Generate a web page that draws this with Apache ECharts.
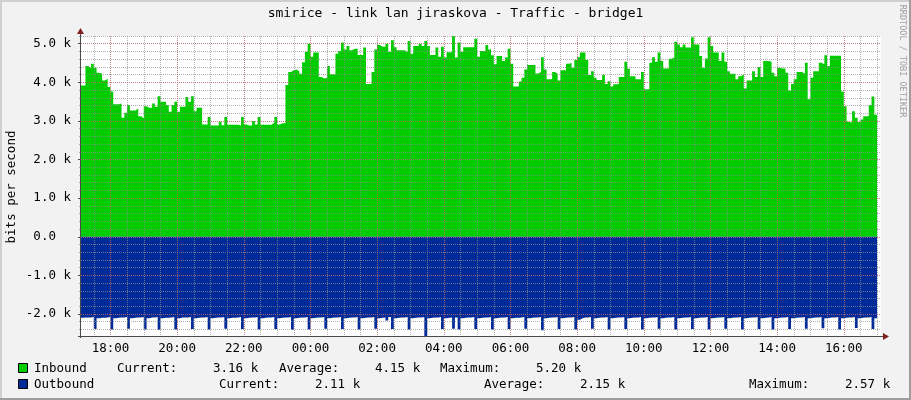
<!DOCTYPE html>
<html>
<head>
<meta charset="utf-8">
<script src="https://cdn.jsdelivr.net/npm/echarts@6/dist/echarts.min.js"></script>
<style>
html,body{margin:0;padding:0;background:#F2F2F2;}
#c{width:911px;height:400px;}
</style>
</head>
<body>
<div id="c"></div>
<script>
// ---- data ----
const chartTitle = 'smirice - link lan jiraskova - Traffic - bridge1';
const yAxisTitle = 'bits per second';
const watermark = 'RRDTOOL / TOBI OETIKER';
const firstSampleMinute = 1025;   // 17:05 (minutes from day-1 midnight)
const sampleStepMinutes = 5;
const axisStartMinute = 1027;     // 17:07
const axisEndMinute = 2467;       // 17:07 next day

// inbound traffic, k bits/s, one value per 5-minute sample
const inbound = [
  3.92,3.92,4.42,4.38,4.48,4.38,4.25,4.22,4.05,4.09,
  3.88,3.76,3.43,3.43,3.45,3.08,3.21,3.41,3.27,3.27,
  3.32,3.12,3.07,3.38,3.34,3.34,3.45,3.37,3.64,3.50,
  3.50,3.41,3.24,3.41,3.50,3.24,3.37,3.37,3.62,3.50,
  3.64,3.25,3.34,3.34,2.91,2.91,3.10,2.88,2.88,2.88,
  2.98,2.89,3.10,2.90,2.90,2.90,2.90,2.88,3.10,2.91,
  2.88,2.88,3.00,2.91,3.10,2.90,2.90,2.90,2.90,2.95,
  3.10,2.91,2.94,2.94,3.93,4.27,4.31,4.33,4.29,4.22,
  4.52,4.79,5.00,4.66,4.77,4.77,4.14,4.10,4.12,4.42,
  4.21,4.21,4.74,4.81,5.03,4.85,4.94,4.83,4.87,4.87,
  4.71,4.71,4.90,3.96,3.96,4.27,4.85,4.97,4.92,4.92,
  5.00,4.79,5.09,4.91,4.83,4.83,4.83,4.78,5.07,4.74,
  4.94,4.94,5.00,4.94,5.07,4.94,4.71,4.71,4.90,4.66,
  4.92,4.64,4.78,4.78,5.20,4.64,5.03,4.79,4.91,4.91,
  4.91,4.91,5.13,4.66,4.81,4.81,4.97,4.85,4.70,4.47,
  4.68,4.68,4.55,4.64,4.87,4.48,3.89,3.89,4.02,4.12,
  4.33,4.45,4.45,4.45,4.23,4.27,4.65,4.33,4.08,4.08,
  4.27,4.22,4.05,4.31,4.31,4.48,4.50,4.38,4.58,4.65,
  4.77,4.77,4.58,4.19,4.29,4.12,4.06,4.06,4.19,3.96,
  4.03,3.89,3.95,3.95,4.14,4.14,4.53,4.35,4.16,4.16,
  4.08,4.08,4.27,3.82,3.82,4.51,4.65,4.53,4.77,4.55,
  4.36,4.36,4.61,4.64,5.05,4.98,4.91,4.98,4.90,4.90,
  5.17,4.98,4.98,4.68,4.38,4.62,5.17,4.94,4.77,4.77,
  4.55,4.77,4.53,4.29,4.22,4.22,4.08,4.16,4.21,3.84,
  4.05,4.05,4.29,4.14,4.40,4.14,4.55,4.55,4.53,4.25,
  4.16,4.38,4.36,4.36,4.25,3.79,3.96,4.08,4.27,4.27,
  4.22,4.51,3.56,4.12,4.29,4.29,4.51,4.47,4.70,4.42,
  4.69,4.69,4.69,4.69,3.76,3.38,2.98,2.95,3.25,3.08,
  2.97,3.04,3.12,3.12,3.41,3.63,3.16
];

// outbound traffic, k bits/s (drawn below zero)
const outbound = [
  2.10,2.09,2.09,2.09,2.08,2.39,2.11,2.10,2.10,2.09,
  2.08,2.40,2.11,2.10,2.09,2.09,2.08,2.38,2.11,2.10,
  2.09,2.09,2.08,2.40,2.11,2.09,2.09,2.08,2.41,2.11,
  2.10,2.10,2.09,2.08,2.40,2.11,2.09,2.09,2.09,2.08,
  2.39,2.11,2.10,2.09,2.09,2.08,2.40,2.11,2.10,2.09,
  2.09,2.08,2.38,2.11,2.10,2.10,2.09,2.08,2.39,2.11,
  2.10,2.09,2.09,2.08,2.40,2.11,2.10,2.09,2.09,2.08,
  2.39,2.11,2.10,2.09,2.09,2.08,2.41,2.11,2.10,2.09,
  2.09,2.08,2.40,2.11,2.10,2.09,2.09,2.08,2.38,2.11,
  2.10,2.09,2.09,2.08,2.39,2.11,2.10,2.09,2.09,2.08,
  2.40,2.11,2.10,2.09,2.09,2.08,2.38,2.11,2.10,2.09,
  2.17,2.08,2.39,2.11,2.10,2.09,2.09,2.08,2.40,2.11,
  2.10,2.09,2.09,2.08,2.57,2.11,2.10,2.09,2.09,2.08,
  2.39,2.11,2.10,2.09,2.38,2.09,2.40,2.11,2.10,2.09,
  2.09,2.08,2.39,2.11,2.10,2.09,2.09,2.08,2.40,2.11,
  2.10,2.09,2.09,2.08,2.39,2.11,2.10,2.10,2.09,2.08,
  2.38,2.11,2.10,2.09,2.09,2.08,2.42,2.11,2.10,2.09,
  2.09,2.08,2.39,2.11,2.10,2.09,2.09,2.08,2.40,2.15,
  2.11,2.09,2.09,2.08,2.38,2.11,2.10,2.09,2.09,2.08,
  2.40,2.11,2.10,2.09,2.09,2.08,2.39,2.11,2.10,2.09,
  2.09,2.08,2.40,2.11,2.10,2.09,2.09,2.08,2.38,2.11,
  2.10,2.09,2.09,2.08,2.40,2.11,2.10,2.09,2.09,2.08,
  2.39,2.11,2.10,2.09,2.09,2.08,2.40,2.11,2.10,2.09,
  2.09,2.08,2.38,2.11,2.10,2.09,2.09,2.08,2.40,2.11,
  2.10,2.09,2.09,2.08,2.39,2.11,2.10,2.09,2.08,2.40,
  2.11,2.10,2.09,2.09,2.08,2.39,2.11,2.10,2.09,2.09,
  2.08,2.38,2.11,2.10,2.09,2.09,2.08,2.37,2.11,2.10,
  2.09,2.09,2.08,2.40,2.11,2.10,2.09,2.09,2.08,2.36,
  2.11,2.10,2.09,2.09,2.08,2.39,2.11
];

const xTickMinutes = [1080,1200,1320,1440,1560,1680,1800,1920,2040,2160,2280,2400];
const xTickLabels = ['18:00','20:00','22:00','00:00','02:00','04:00','06:00','08:00','10:00','12:00','14:00','16:00'];
const yTickValues = [-2,-1,0,1,2,3,4,5];
const yTickLabels = ['-2.0 k','-1.0 k','0.0  ','1.0 k','2.0 k','3.0 k','4.0 k','5.0 k'];
const yMin = -2.57, yMax = 5.2;

const legendInbound = ['Inbound','Current:','3.16 k','Average:','4.15 k','Maximum:','5.20 k'];
const legendOutbound = ['Outbound','Current:','2.11 k','Average:','2.15 k','Maximum:','2.57 k'];

// ---- layout / style ----
const FONT = '"DejaVu Sans Mono", "Liberation Mono", monospace';
const GREEN = '#00CC00', BLUE = '#002A97';
const GRID_COL = 'rgba(143,143,143,0.7)', MGRID_COL = 'rgba(222,79,79,0.45)';
const ARROW_COL = '#801F1F', AXIS_COL = '#4a4a4a';
const G = {left: 81, top: 36, width: 800, height: 300};
const legendX1 = [34,117,213,279,375,440,536];
const legendX2 = [34,219,315,484,580,749,845];

const minorX = [];
for (let m = 1050; m <= 2460; m += 30) minorX.push(m);
const minorY = [];
for (let k = -12; k <= 26; k++) minorY.push(k / 5);

function seriesPoints(vals, sign) {
  const pts = vals.map((v, i) => [firstSampleMinute + i * sampleStepMinutes, sign * v]);
  pts.push([firstSampleMinute + vals.length * sampleStepMinutes, sign * vals[vals.length - 1]]);
  return pts;
}

const chart = echarts.init(document.getElementById('c'), null, {renderer: 'canvas'});

const txt = (text, x, y, opts) => Object.assign({
  type: 'text', x: x, y: y, z: 100,
  style: Object.assign({text: text, x: 0, y: 0, fill: '#000', font: '12.5px ' + FONT,
    align: 'left', verticalAlign: 'middle', textAlign: 'left', textVerticalAlign: 'middle'}, (opts && opts.style) || {})
}, opts && opts.el || {});

const graphics = [
  // frame shading
  {type: 'rect', z: 100, shape: {x: 0, y: 0, width: 911, height: 2}, style: {fill: '#CFCFCF'}},
  {type: 'rect', z: 100, shape: {x: 0, y: 0, width: 2, height: 400}, style: {fill: '#CFCFCF'}},
  {type: 'rect', z: 100, shape: {x: 909, y: 0, width: 2, height: 400}, style: {fill: '#9E9E9E'}},
  {type: 'rect', z: 100, shape: {x: 0, y: 398, width: 911, height: 2}, style: {fill: '#9E9E9E'}},
  // axis lines and arrows
  {type: 'line', z: 101, shape: {x1: G.left - 0.5, y1: G.top - 3, x2: G.left - 0.5, y2: G.top + G.height + 2}, style: {stroke: AXIS_COL, lineWidth: 1}},
  {type: 'line', z: 101, shape: {x1: G.left - 3, y1: G.top + G.height + 0.5, x2: G.left + G.width + 3, y2: G.top + G.height + 0.5}, style: {stroke: AXIS_COL, lineWidth: 1}},
  {type: 'polygon', z: 102, shape: {points: [[G.left - 0.5, G.top - 8], [G.left - 4, G.top - 2], [G.left + 3, G.top - 2]]}, style: {fill: ARROW_COL}},
  {type: 'polygon', z: 102, shape: {points: [[G.left + G.width + 8, G.top + G.height + 0.5], [G.left + G.width + 2, G.top + G.height - 3], [G.left + G.width + 2, G.top + G.height + 4]]}, style: {fill: ARROW_COL}},
  // title
  txt(chartTitle, 455.5, 14, {style: {font: '13px ' + FONT, align: 'center', textAlign: 'center'}}),
  // y title
  txt(yAxisTitle, 12, 187, {el: {rotation: Math.PI / 2}, style: {align: 'center', textAlign: 'center'}}),
  // watermark
  txt(watermark, 902, 61, {el: {rotation: -Math.PI / 2}, style: {font: '8.5px ' + FONT, fill: '#A0A0A0', align: 'center', textAlign: 'center'}}),
  // legend boxes
  {type: 'rect', z: 100, shape: {x: 18.5, y: 363.5, width: 9, height: 9}, style: {fill: GREEN, stroke: '#000', lineWidth: 1}},
  {type: 'rect', z: 100, shape: {x: 18.5, y: 379.5, width: 9, height: 9}, style: {fill: BLUE, stroke: '#000', lineWidth: 1}}
];
legendInbound.forEach((t, i) => graphics.push(txt(t, legendX1[i], 368.5)));
legendOutbound.forEach((t, i) => graphics.push(txt(t, legendX2[i], 384.5)));

const option = {
  animation: false,
  backgroundColor: '#F2F2F2',
  grid: {left: G.left, top: G.top, width: G.width, height: G.height, show: true, backgroundColor: '#FFFFFF', borderWidth: 0},
  xAxis: [
    {
      type: 'value', min: axisStartMinute, max: axisEndMinute, position: 'bottom', z: 11,
      axisLine: {show: false, onZero: false},
      axisTick: {show: false, customValues: xTickMinutes},
      axisLabel: {
        customValues: xTickMinutes, color: '#000', fontFamily: FONT, fontSize: 12.5, margin: 6,
        formatter: v => xTickLabels[xTickMinutes.indexOf(v)] || ''
      },
      splitLine: {show: true, lineStyle: {color: MGRID_COL, type: [1, 1], width: 1}}
    },
    {
      type: 'value', min: axisStartMinute, max: axisEndMinute, position: 'bottom', z: 10,
      axisLine: {show: false, onZero: false},
      axisTick: {show: false, customValues: minorX},
      axisLabel: {show: false},
      splitLine: {show: true, lineStyle: {color: GRID_COL, type: [1, 1], width: 1}}
    }
  ],
  yAxis: [
    {
      type: 'value', min: yMin, max: yMax, position: 'left', z: 11,
      axisLine: {show: false, onZero: false},
      axisTick: {show: true, inside: false, length: 3, customValues: yTickValues, lineStyle: {color: AXIS_COL}},
      axisLabel: {
        customValues: yTickValues, color: '#000', fontFamily: FONT, fontSize: 12.5, margin: 10,
        formatter: v => yTickLabels[yTickValues.indexOf(v)] || ''
      },
      splitLine: {show: true, lineStyle: {color: MGRID_COL, type: [1, 1], width: 1}}
    },
    {
      type: 'value', min: yMin, max: yMax, position: 'left', z: 10,
      axisLine: {show: false, onZero: false},
      axisTick: {show: true, inside: false, length: 2, customValues: minorY, lineStyle: {color: GRID_COL}},
      axisLabel: {show: false},
      splitLine: {show: true, lineStyle: {color: GRID_COL, type: [1, 1], width: 1}}
    }
  ],
  series: [
    {
      name: 'Inbound', type: 'line', step: 'end', xAxisIndex: 0, yAxisIndex: 0,
      data: seriesPoints(inbound, 1), symbol: 'none', lineStyle: {width: 0},
      areaStyle: {color: GREEN, opacity: 1}, z: 2, silent: true
    },
    {
      name: 'Outbound', type: 'line', step: 'end', xAxisIndex: 0, yAxisIndex: 0,
      data: seriesPoints(outbound, -1), symbol: 'none', lineStyle: {width: 0},
      areaStyle: {color: BLUE, opacity: 1}, z: 2, silent: true
    }
  ],
  graphic: graphics
};
chart.setOption(option);
</script>
</body>
</html>
